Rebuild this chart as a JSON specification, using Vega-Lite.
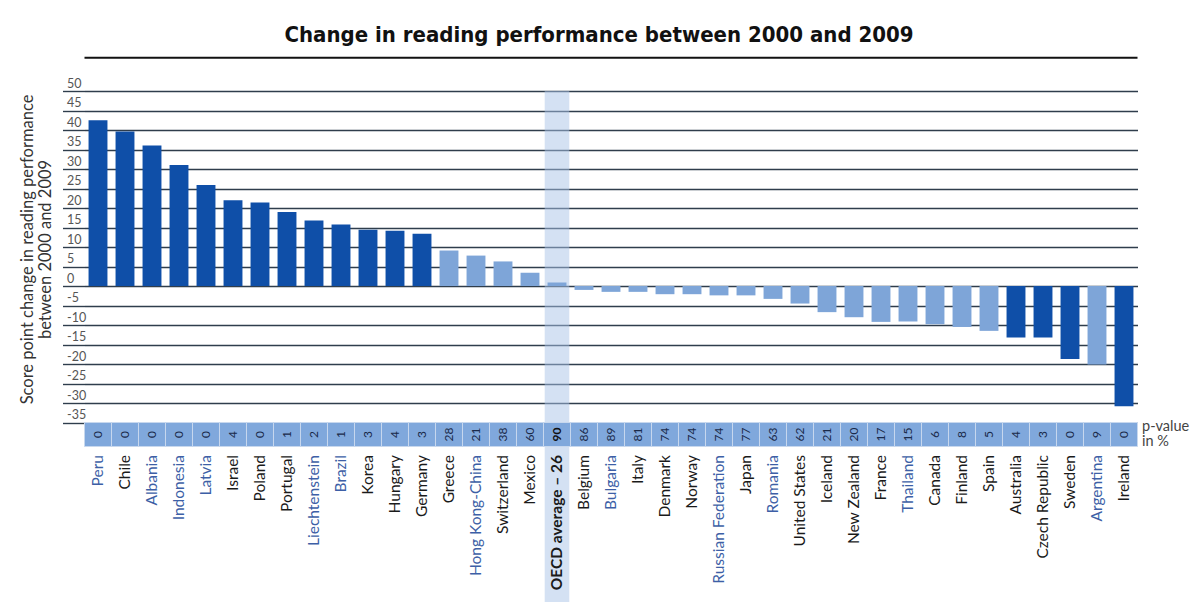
{
  "$schema": "https://vega.github.io/schema/vega-lite/v6.json",
  "autosize": {"type": "none"},
  "padding": {"left": 84.5, "top": 91, "right": 55.5, "bottom": 155.5},
  "width": 1053,
  "height": 355.5,
  "background": "white",
  "config": {"font": "Lato", "view": {"stroke": null}},
  "title": {"text": "Change in reading performance between 2000 and 2009", "font": "DejaVu Sans Condensed", "fontSize": 22, "fontWeight": "bold", "color": "#111111", "anchor": "middle", "dx": -12, "offset": 10},
  "data": {"values": [
    {"country": "Peru", "change": 42.5, "p": 0, "group": "partner"},
    {"country": "Chile", "change": 39.6, "p": 0, "group": "OECD"},
    {"country": "Albania", "change": 36.0, "p": 0, "group": "partner"},
    {"country": "Indonesia", "change": 31.0, "p": 0, "group": "partner"},
    {"country": "Latvia", "change": 25.9, "p": 0, "group": "partner"},
    {"country": "Israel", "change": 22.0, "p": 4, "group": "OECD"},
    {"country": "Poland", "change": 21.4, "p": 0, "group": "OECD"},
    {"country": "Portugal", "change": 19.0, "p": 1, "group": "OECD"},
    {"country": "Liechtenstein", "change": 16.8, "p": 2, "group": "partner"},
    {"country": "Brazil", "change": 15.8, "p": 1, "group": "partner"},
    {"country": "Korea", "change": 14.4, "p": 3, "group": "OECD"},
    {"country": "Hungary", "change": 14.2, "p": 4, "group": "OECD"},
    {"country": "Germany", "change": 13.4, "p": 3, "group": "OECD"},
    {"country": "Greece", "change": 9.1, "p": 28, "group": "OECD"},
    {"country": "Hong Kong-China", "change": 7.8, "p": 21, "group": "partner"},
    {"country": "Switzerland", "change": 6.3, "p": 38, "group": "OECD"},
    {"country": "Mexico", "change": 3.4, "p": 60, "group": "OECD"},
    {"country": "OECD average – 26", "change": 0.9, "p": 90, "group": "average"},
    {"country": "Belgium", "change": -1.0, "p": 86, "group": "OECD"},
    {"country": "Bulgaria", "change": -1.5, "p": 89, "group": "partner"},
    {"country": "Italy", "change": -1.5, "p": 81, "group": "OECD"},
    {"country": "Denmark", "change": -2.1, "p": 74, "group": "OECD"},
    {"country": "Norway", "change": -2.1, "p": 74, "group": "OECD"},
    {"country": "Russian Federation", "change": -2.4, "p": 74, "group": "partner"},
    {"country": "Japan", "change": -2.4, "p": 77, "group": "OECD"},
    {"country": "Romania", "change": -3.3, "p": 63, "group": "partner"},
    {"country": "United States", "change": -4.5, "p": 62, "group": "OECD"},
    {"country": "Iceland", "change": -6.7, "p": 21, "group": "OECD"},
    {"country": "New Zealand", "change": -8.0, "p": 20, "group": "OECD"},
    {"country": "France", "change": -9.2, "p": 17, "group": "OECD"},
    {"country": "Thailand", "change": -9.1, "p": 15, "group": "partner"},
    {"country": "Canada", "change": -9.8, "p": 6, "group": "OECD"},
    {"country": "Finland", "change": -10.5, "p": 8, "group": "OECD"},
    {"country": "Spain", "change": -11.5, "p": 5, "group": "OECD"},
    {"country": "Australia", "change": -13.2, "p": 4, "group": "OECD"},
    {"country": "Czech Republic", "change": -13.2, "p": 3, "group": "OECD"},
    {"country": "Sweden", "change": -18.7, "p": 0, "group": "OECD"},
    {"country": "Argentina", "change": -20.1, "p": 9, "group": "partner"},
    {"country": "Ireland", "change": -30.8, "p": 0, "group": "OECD"}
  ]},
  "layer": [
    {
      "mark": {"type": "bar", "color": "#aac4e8", "width": {"band": 1.3}},
      "encoding": {
        "x": {"field": "country", "type": "nominal", "sort": null},
        "y": {"datum": 50},
        "y2": {"datum": -125},
        "opacity": {"condition": {"test": "datum.group === 'average'", "value": 0.5}, "value": 0}
      }
    },
    {
      "mark": {"type": "bar"},
      "encoding": {
        "x": {
          "field": "country", "type": "nominal", "sort": null,
          "scale": {"paddingInner": 0.3, "paddingOuter": 0.15},
          "axis": {
            "title": null, "domain": false, "ticks": false, "zindex": 1,
            "labelAngle": 270, "labelAlign": "right", "labelBaseline": "middle",
            "labelPadding": 8, "labelFont": "Lato", "labelFontSize": 15.5,
            "labelOverlap": false, "labelLimit": 0,
            "labelColor": {"condition": {"test": "indexof(['Peru','Albania','Indonesia','Latvia','Liechtenstein','Brazil','Hong Kong-China','Bulgaria','Russian Federation','Romania','Thailand','Argentina'], datum.value) >= 0", "value": "#3d5fa6"}, "value": "#1a1a1a"},
            "labelFontWeight": {"condition": {"test": "datum.value === 'OECD average – 26'", "value": "bold"}, "value": "normal"}
          }
        },
        "y": {
          "field": "change", "type": "quantitative",
          "scale": {"domain": [-41.15, 50], "nice": false, "zero": false},
          "axis": {
            "title": ["Score point change in reading performance", "between 2000 and 2009"],
            "values": [-35, -30, -25, -20, -15, -10, -5, 0, 5, 10, 15, 20, 25, 30, 35, 40, 45, 50],
            "tickCount": 30,
            "labelExpr": "replace(datum.label, '−', '-')",
            "grid": true, "gridColor": "#2f3d4c", "gridWidth": 1.4,
            "domain": false, "ticks": true, "tickSize": 22, "tickColor": "#2f3d4c", "tickWidth": 1.4,
            "labelAlign": "left", "labelBaseline": "bottom", "labelPadding": -4, "labelOffset": -1,
            "labelOverlap": false, "labelBound": false,
            "labelColor": "#555555", "labelFontSize": 12.5, "labelFont": "Lato",
            "titleFont": "Lato", "titleFontSize": 16.5, "titleFontWeight": "normal", "titleColor": "#333333", "titlePadding": 8, "titleY": 158
          }
        },
        "color": {"condition": {"test": "datum.p < 5", "value": "#0f4fa8"}, "value": "#7ea5d8"}
      }
    },
    {
      "mark": {"type": "bar", "color": "#80a8dc", "stroke": "#c8d8ee", "strokeWidth": 1, "width": {"band": 1.43}},
      "encoding": {
        "x": {"field": "country", "type": "nominal", "sort": null},
        "y": {"datum": -35},
        "y2": {"datum": -41.15}
      }
    },
    {
      "mark": {"type": "text", "angle": 270, "align": "center", "baseline": "middle", "fontSize": 12, "font": "Lato", "color": "#1a2a4a"},
      "encoding": {
        "x": {"field": "country", "type": "nominal", "sort": null},
        "y": {"datum": -38.07},
        "text": {"field": "p", "type": "quantitative"},
        "opacity": {"condition": {"test": "datum.group === 'average'", "value": 0}, "value": 1}
      }
    },
    {
      "mark": {"type": "text", "angle": 270, "align": "center", "baseline": "middle", "fontSize": 12, "font": "Lato", "fontWeight": "bold", "color": "#111111"},
      "encoding": {
        "x": {"field": "country", "type": "nominal", "sort": null},
        "y": {"datum": -38.07},
        "text": {"field": "p", "type": "quantitative"},
        "opacity": {"condition": {"test": "datum.group === 'average'", "value": 1}, "value": 0}
      }
    },
    {
      "data": {"values": [{"label": "p-value\nin %"}]},
      "mark": {"type": "text", "align": "left", "baseline": "top", "dx": 18, "dy": -3, "fontSize": 14.5, "font": "Lato", "color": "#444444", "lineBreak": "\n", "lineHeight": 15},
      "encoding": {
        "x": {"datum": "Ireland"},
        "y": {"datum": -35},
        "text": {"field": "label", "type": "nominal"}
      }
    },
    {
      "data": {"values": [{}]},
      "mark": {"type": "rule", "color": "#111111", "strokeWidth": 2},
      "encoding": {"y": {"datum": 58.5}}
    }
  ]
}
